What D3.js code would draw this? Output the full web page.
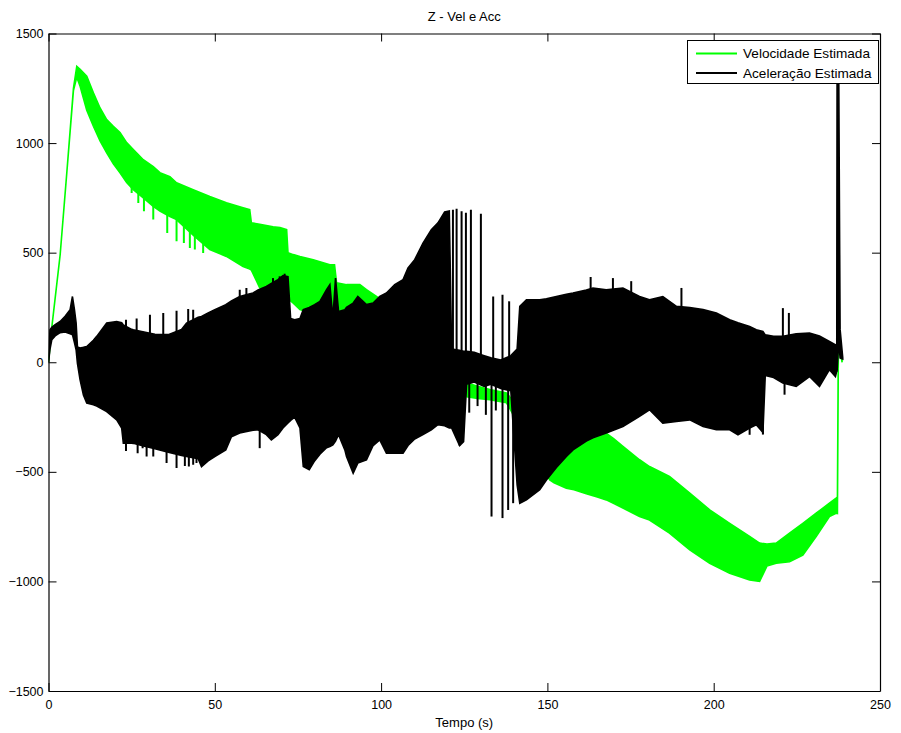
<!DOCTYPE html>
<html><head><meta charset="utf-8">
<script src="https://cdn.jsdelivr.net/npm/d3@7"></script>
<style>
body{margin:0;background:#fff;}
text{font-family:"Liberation Sans",Arial,Helvetica,sans-serif;}
</style></head>
<body>
<svg id="chart" width="901" height="733"></svg>
<script>
// ---- data (time in s, values) ----
const chartTitle = "Z - Vel e Acc";
const xLabel = "Tempo (s)";
const seriesNames = ["Velocidade Estimada", "Aceleração Estimada"];
const xTicks = [0, 50, 100, 150, 200, 250];
const yTicks = [-1500, -1000, -500, 0, 500, 1000, 1500];

// Velocity: envelope of the oscillating trace (upper / lower)
const velT  = [0,1,3.5,5.5,7.5,8.5,9.5,11.5,13.5,15.5,17.5,19.5,21.5,23.5,25.5,28.5,31.5,33.5,36.5,38.5,43.5,48.5,53.5,58.5,60.5,61,63.5,67.5,69.6,71.6,72,73.6,75.6,79.6,84.6,86,86.6,89.6,93.6,95.6,98.6,105,110,115,120,125.7,129,132.7,137.7,142,146,150.7,152,155.7,158,161.7,165,167.7,170,172.7,177.7,180.7,186.7,192.8,198.8,204.8,210.8,213.8,216,218.8,222.8,226.8,230.8,234.8,236.8,237.2,237.5,238.6];
const velHi = [0,160,490,864,1250,1350,1336,1305,1229,1160,1107,1076,1048,1002,970,924,893,865,847,819,787,756,728,705,696,636,630,618,615,605,500,491,482,468,445,445,363,354,354,331,300,230,150,80,10,-94,-110,-125,-140,-220,-320,-440,-470,-415,-380,-339,-320,-324,-350,-384,-445,-476,-521,-597,-674,-735,-795,-825,-830,-825,-780,-735,-689,-643,-620,-615,160,10];
const velLo = [0,160,490,864,1240,1300,1259,1150,1077,1010,955,905,864,820,787,750,711,690,665,651,580,514,483,437,425,420,340,330,320,300,290,270,240,220,190,185,180,170,160,150,130,60,0,-50,-100,-157,-165,-171,-185,-300,-420,-537,-550,-575,-582,-600,-615,-628,-645,-665,-704,-720,-780,-856,-917,-963,-993,-1000,-930,-917,-910,-880,-795,-704,-689,-690,100,0];
// Velocity: isolated spikes
const velSpikeT = [25,27,28.7,31.5,35.7,38.5,40.7,42.5,44,46.5];
const velSpikeV = [772,727,689,651,590,552,544,521,514,499];

// Acceleration: envelope of the oscillating trace (upper / lower)
const accT  = [0,0.45,1,2,3.5,5,6.5,7.2,7.8,8.3,8.7,9.5,10.5,11.5,13.5,14.5,17.5,20.5,22,22.5,25,25.5,28,32,36,40,41.5,45,46,48,50,53.3,55,57.5,60,61.5,63,65.5,67,69,70.5,72,72.8,74,75.6,76.6,78.4,80,81.6,83.6,84.6,85.5,86.3,87.2,89.1,89.6,91.6,93,95.6,97.6,99.6,101.6,104.1,106.6,108.1,110.1,112.6,115.1,117.1,119.1,120.5,121.2,123.6,124.8,125.7,128,131,133,136,139,140.9,141.7,143.7,147.7,149.7,152.7,155.7,157.7,161.7,163.7,167.7,172.7,177.7,180.7,184.7,188.8,192.8,196.8,200.8,204.8,207.3,210.8,212.8,214.8,215.5,218,220.8,224.8,228.8,231.8,234.8,236.6,237.0,237.1,237.6,238.0,238.8];
const accHi = [0,148,160,172,186,210,240,300,240,180,70,65,68,72,100,118,179,186,180,170,150,148,140,128,126,150,179,205,209,225,240,263,280,300,310,316,330,346,360,377,395,390,200,194,200,240,250,263,278,331,354,200,384,232,240,250,270,300,263,270,300,316,354,377,430,468,544,605,636,686,690,60,55,50,50,45,30,20,10,30,60,255,285,285,290,300,310,316,330,339,331,339,300,285,300,255,250,240,225,194,180,163,148,140,125,118,118,130,133,120,95,80,60,1360,1300,150,20];
const accLo = [0,60,103,120,135,138,130,126,90,57,-5,-80,-150,-186,-194,-200,-225,-263,-300,-369,-369,-370,-380,-395,-410,-425,-430,-440,-476,-450,-430,-400,-340,-323,-315,-310,-308,-330,-354,-330,-300,-277,-265,-250,-300,-476,-490,-450,-420,-390,-384,-377,-360,-330,-400,-430,-506,-460,-445,-380,-354,-415,-415,-415,-380,-350,-330,-308,-285,-290,-300,-300,-380,-362,-100,-90,-110,-100,-120,-130,-560,-643,-628,-582,-537,-480,-430,-400,-360,-345,-323,-293,-247,-217,-278,-270,-263,-293,-308,-308,-331,-300,-285,-320,-60,-70,-95,-110,-65,-110,-34,-65,-40,-40,100,20,15];
// Acceleration: isolated spikes
const accSpikeT = [23.3,26.5,30.5,34.5,38.5,42,43.5,57.5,59.5,67.5,69.5,71,121.6,122.7,124.2,125.5,127,130,133.7,136.5,138.5,163,169.7,175.2,190.3,220.8,222.6,
                   23.3,26.8,28.3,29.5,31.5,35.5,38.5,41,42.2,43.5,44.5,63.5,123.6,126.5,129,131.5,134.5,133.2,136.5,138.2,139.7,210.8,214.8,221.3];
const accSpikeV = [194,200,217,225,235,243,240,331,339,384,392,404,696,700,689,682,696,678,300,308,278,389,384,370,339,247,225,
                   -405,-415,-392,-430,-430,-460,-483,-473,-476,-468,-460,-392,-380,-230,-200,-240,-220,-704,-711,-674,-643,-331,-330,-148];

const colors = ["#00ff00", "#000000"];

// ---- layout ----
const svg = d3.select("#chart");
const L = 48.5, R = 880, T = 33.5, B = 691;
const x = d3.scaleLinear().domain([0, 250]).range([L, R]);
const y = d3.scaleLinear().domain([-1500, 1500]).range([B, T]);

svg.append("rect").attr("width", 901).attr("height", 733).attr("fill", "#fff");
svg.append("defs").append("clipPath").attr("id", "clip")
  .append("rect").attr("x", L).attr("y", T).attr("width", R - L).attr("height", B - T);

const plot = svg.append("g").attr("clip-path", "url(#clip)");

function drawSeries(tArr, hi, lo, sT, sV, color) {
  const rows = tArr.map((t, i) => ({t, hi: hi[i], lo: lo[i]}));
  const area = d3.area().x(d => x(d.t)).y0(d => y(d.lo)).y1(d => y(d.hi));
  plot.append("path").datum(rows).attr("d", area)
    .attr("fill", color).attr("stroke", color).attr("stroke-width", 1.6)
    .attr("stroke-linejoin", "miter");
  const bis = d3.bisector(d => d).left;
  const mid = t => {
    const i = Math.max(1, Math.min(tArr.length - 1, bis(tArr, t)));
    const t0 = tArr[i - 1], t1 = tArr[i];
    const f = t1 === t0 ? 0 : (t - t0) / (t1 - t0);
    const h = hi[i - 1] + f * (hi[i] - hi[i - 1]);
    const l = lo[i - 1] + f * (lo[i] - lo[i - 1]);
    return (h + l) / 2;
  };
  plot.append("g").selectAll("line").data(sT.map((t, i) => ({t, v: sV[i]})))
    .join("line")
    .attr("x1", d => x(d.t)).attr("x2", d => x(d.t))
    .attr("y1", d => y(mid(d.t))).attr("y2", d => y(d.v))
    .attr("stroke", color).attr("stroke-width", 2);
}

drawSeries(velT, velHi, velLo, velSpikeT, velSpikeV, colors[0]);
drawSeries(accT, accHi, accLo, accSpikeT, accSpikeV, colors[1]);

// ---- axes (MATLAB style: box, inward ticks) ----
const fmt = d3.format("d");
const gx = svg.append("g").attr("transform", `translate(0,${B})`)
  .call(d3.axisBottom(x).tickValues(xTicks).tickFormat(fmt).tickSizeInner(-8).tickSizeOuter(0).tickPadding(9));
const gy = svg.append("g").attr("transform", `translate(${L},0)`)
  .call(d3.axisLeft(y).tickValues(yTicks).tickFormat(fmt).tickSizeInner(-8).tickSizeOuter(0).tickPadding(5));
const gt = svg.append("g").attr("transform", `translate(0,${T})`)
  .call(d3.axisTop(x).tickValues(xTicks).tickFormat("").tickSizeInner(-8).tickSizeOuter(0));
const gr = svg.append("g").attr("transform", `translate(${R},0)`)
  .call(d3.axisRight(y).tickValues(yTicks).tickFormat("").tickSizeInner(-8).tickSizeOuter(0));
[gx, gy, gt, gr].forEach(g => {
  g.selectAll("path.domain").attr("stroke", "#000").attr("stroke-width", 1.2);
  g.selectAll(".tick line").attr("stroke", "#000").attr("stroke-width", 1);
  g.selectAll("text").attr("fill", "#000").style("font-size", "12.5px")
    .style("font-family", '"Liberation Sans", Arial, sans-serif');
});

// ---- titles ----
svg.append("text").attr("x", (L + R) / 2).attr("y", 21).attr("text-anchor", "middle")
  .style("font-size", "13px").text(chartTitle);
svg.append("text").attr("x", (L + R) / 2).attr("y", 727).attr("text-anchor", "middle")
  .style("font-size", "13px").text(xLabel);

// ---- legend ----
const lg = svg.append("g");
lg.append("rect").attr("x", 687.5).attr("y", 40.5).attr("width", 191).attr("height", 43)
  .attr("fill", "#fff").attr("stroke", "#000").attr("stroke-width", 1);
seriesNames.forEach((name, i) => {
  const yy = 53.5 + i * 19.5;
  lg.append("line").attr("x1", 696).attr("x2", 737).attr("y1", yy).attr("y2", yy)
    .attr("stroke", colors[i]).attr("stroke-width", 2);
  lg.append("text").attr("x", 743).attr("y", yy + 4.5).style("font-size", "13.6px").text(name);
});
</script>
</body></html>
